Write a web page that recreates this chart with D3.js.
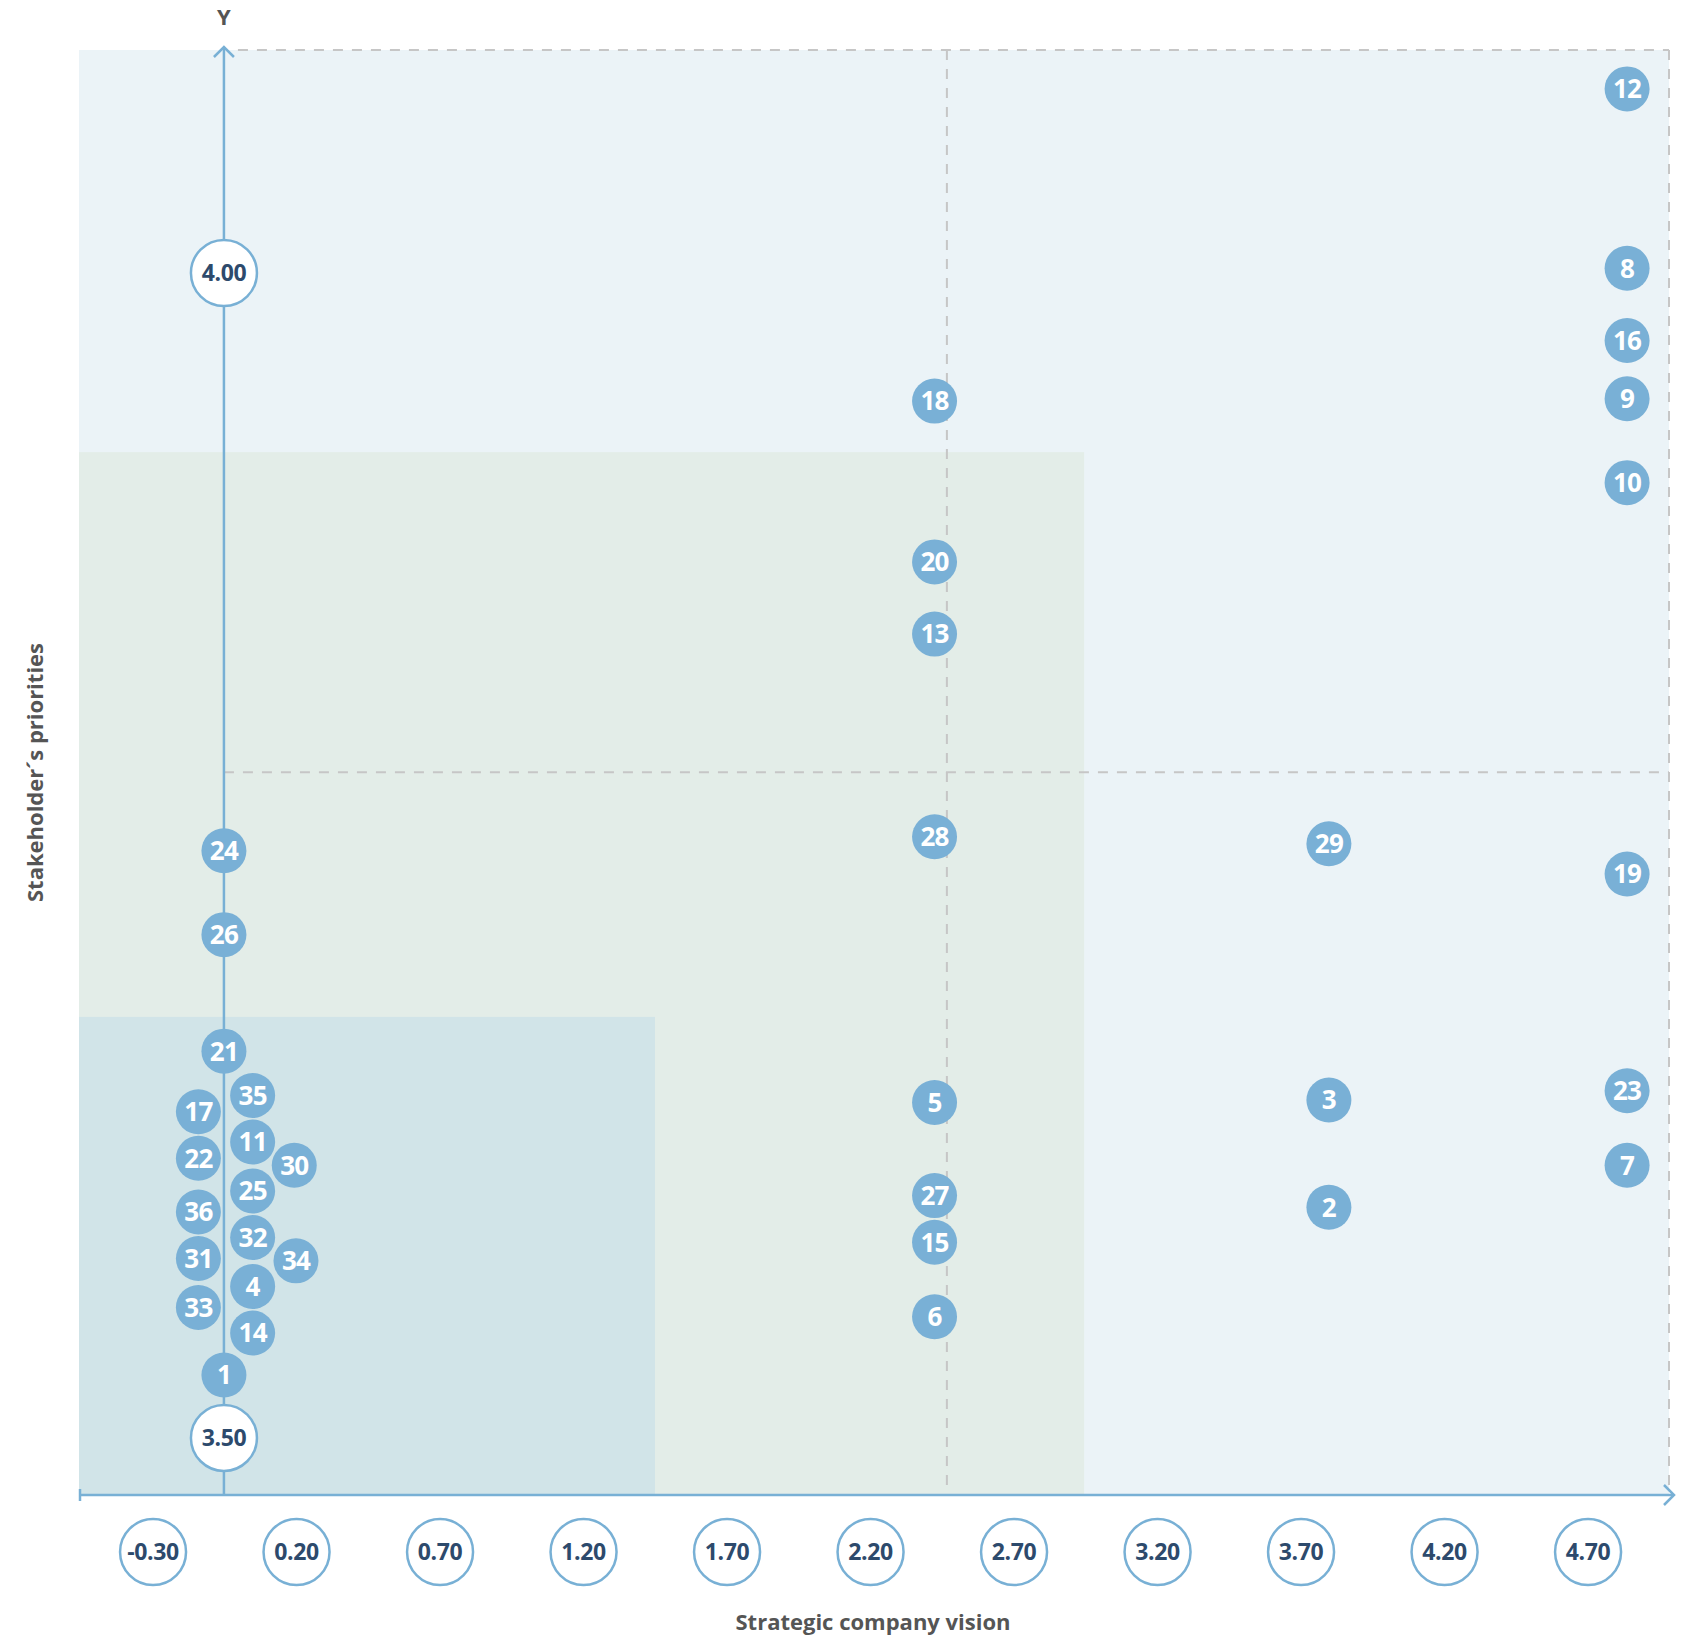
<!DOCTYPE html>
<html>
<head>
<meta charset="utf-8">
<script src="https://cdn.jsdelivr.net/npm/d3@7/dist/d3.min.js"></script>
<style>
  html, body { margin: 0; padding: 0; background: #fff; }
  svg { display: block; }
</style>
</head>
<body>
<svg id="chart" width="1698" height="1637"></svg>
<script>
// ---- data ----
const ids = [12, 8, 16, 9, 10, 18, 20, 13, 28, 29, 19, 24, 26, 21, 35, 17, 5, 3, 23, 11, 22, 30, 7, 25, 27, 2, 36, 32, 15, 31, 34, 4, 33, 6, 14, 1];
const xs  = [4.836, 4.836, 4.836, 4.836, 4.836, 2.423, 2.423, 2.423, 2.423, 3.797, 4.836, -0.053, -0.053, -0.053, 0.047, -0.142, 2.423, 3.797, 4.836, 0.047, -0.142, 0.192, 4.836, 0.047, 2.423, 3.797, -0.142, 0.047, 2.423, -0.142, 0.198, 0.047, -0.142, 2.423, 0.047, -0.053];
const ys  = [4.079, 4.002, 3.971, 3.946, 3.910, 3.945, 3.876, 3.845, 3.758, 3.755, 3.742, 3.752, 3.716, 3.666, 3.647, 3.640, 3.644, 3.645, 3.649, 3.627, 3.620, 3.617, 3.617, 3.606, 3.604, 3.599, 3.597, 3.586, 3.584, 3.577, 3.576, 3.565, 3.556, 3.552, 3.545, 3.527];
const xTicks = [-0.30, 0.20, 0.70, 1.20, 1.70, 2.20, 2.70, 3.20, 3.70, 4.20, 4.70];
const yTicks = [3.50, 4.00];
const xDomain = [-0.558, 4.982];
const yDomain = [3.4755, 4.0957];
const yAxisAt = -0.053;          // x value where the Y axis crosses
const xSplit = 2.466;            // vertical dashed divider
const ySplit = 3.7857;           // horizontal dashed divider
const zoneMid   = {x1: 2.944, y1: 3.9231};
const zoneInner = {x1: 1.449, y1: 3.6807};
const xTitle = "Strategic company vision";
const yTitle = "Stakeholder´s priorities";

// ---- layout ----
const L = 79, R = 1669, T = 50, B = 1495;
const x = d3.scaleLinear().domain(xDomain).range([L, R]);
const y = d3.scaleLinear().domain(yDomain).range([B, T]);

const svg = d3.select("#chart");
const axisColor = "#78b0d5";
const bubbleColor = "#79b0d6";
const labelColor = "#2d4a6c";
const titleColor = "#555555";
const font = "'Open Sans', 'Noto Sans', sans-serif";

// background zones
svg.append("rect").attr("x", x(xDomain[0])).attr("y", y(yDomain[1]))
  .attr("width", x(xDomain[1]) - x(xDomain[0])).attr("height", y(yDomain[0]) - y(yDomain[1]))
  .attr("fill", "#ebf3f7");
svg.append("rect").attr("x", x(xDomain[0])).attr("y", y(zoneMid.y1))
  .attr("width", x(zoneMid.x1) - x(xDomain[0])).attr("height", y(yDomain[0]) - y(zoneMid.y1))
  .attr("fill", "#e3ede8");
svg.append("rect").attr("x", x(xDomain[0])).attr("y", y(zoneInner.y1))
  .attr("width", x(zoneInner.x1) - x(xDomain[0])).attr("height", y(yDomain[0]) - y(zoneInner.y1))
  .attr("fill", "#d1e4e8");

// dashed lines
const dash = g => g.attr("stroke", "#c6c6c6").attr("stroke-width", 2).attr("stroke-dasharray", "10,9").attr("fill", "none");
svg.append("line").attr("x1", x(yAxisAt) + 14).attr("x2", x(xDomain[1])).attr("y1", y(yDomain[1])).attr("y2", y(yDomain[1])).call(dash);
svg.append("line").attr("x1", x(xDomain[1])).attr("x2", x(xDomain[1])).attr("y1", y(yDomain[1])).attr("y2", y(yDomain[0]) - 6).call(dash);
svg.append("line").attr("x1", x(yAxisAt)).attr("x2", x(xDomain[1])).attr("y1", y(ySplit)).attr("y2", y(ySplit)).call(dash);
svg.append("line").attr("x1", x(xSplit)).attr("x2", x(xSplit)).attr("y1", y(yDomain[1])).attr("y2", y(yDomain[0])).call(dash);

// X axis
const ax = svg.append("g").attr("stroke", axisColor).attr("stroke-width", 2.5).attr("fill", "none");
ax.append("line").attr("x1", x(xDomain[0])).attr("x2", x(xDomain[1]) + 4).attr("y1", y(yDomain[0])).attr("y2", y(yDomain[0]));
ax.append("line").attr("x1", x(xDomain[0]) + 1).attr("x2", x(xDomain[0]) + 1).attr("y1", y(yDomain[0]) - 6).attr("y2", y(yDomain[0]) + 6);
ax.append("polyline").attr("points", `${x(xDomain[1]) - 5},${y(yDomain[0]) - 10} ${x(xDomain[1]) + 5},${y(yDomain[0])} ${x(xDomain[1]) - 5},${y(yDomain[0]) + 10}`);
// Y axis
ax.append("line").attr("x1", x(yAxisAt)).attr("x2", x(yAxisAt)).attr("y1", y(yDomain[0])).attr("y2", y(yDomain[1]) - 3);
ax.append("polyline").attr("points", `${x(yAxisAt) - 10},${y(yDomain[1]) + 7} ${x(yAxisAt)},${y(yDomain[1]) - 3} ${x(yAxisAt) + 10},${y(yDomain[1]) + 7}`);

// X tick labels (circles)
const xt = svg.append("g").selectAll("g").data(xTicks).join("g")
  .attr("transform", d => `translate(${x(d)},${y(yDomain[0]) + 57})`);
xt.append("circle").attr("r", 33).attr("fill", "#fff").attr("stroke", axisColor).attr("stroke-width", 2.5);
xt.append("text").text(d => d.toFixed(2)).attr("text-anchor", "middle").attr("dy", "0.36em")
  .attr("font-family", font).attr("font-weight", 700).attr("font-size", 23).attr("fill", labelColor)
  .attr("letter-spacing", -0.4);

// Y tick labels (circles)
const yt = svg.append("g").selectAll("g").data(yTicks).join("g")
  .attr("transform", d => `translate(${x(yAxisAt)},${y(d)})`);
yt.append("circle").attr("r", 33).attr("fill", "#fff").attr("stroke", axisColor).attr("stroke-width", 2.5);
yt.append("text").text(d => d.toFixed(2)).attr("text-anchor", "middle").attr("dy", "0.36em")
  .attr("font-family", font).attr("font-weight", 700).attr("font-size", 23).attr("fill", labelColor)
  .attr("letter-spacing", -0.4);

// bubbles
const pts = ids.map((id, i) => ({id, x: xs[i], y: ys[i]}));
const bg = svg.append("g").selectAll("g").data(pts).join("g")
  .attr("transform", d => `translate(${x(d.x)},${y(d.y)})`);
bg.append("circle").attr("r", 22.5).attr("fill", bubbleColor);
bg.append("text").text(d => d.id).attr("text-anchor", "middle").attr("dy", "0.36em")
  .attr("font-family", font).attr("font-weight", 700).attr("font-size", 26).attr("fill", "#fff")
  .attr("letter-spacing", -0.8);

// titles
svg.append("text").text("Y").attr("x", x(yAxisAt)).attr("y", 25).attr("text-anchor", "middle")
  .attr("font-family", font).attr("font-weight", 700).attr("font-size", 22).attr("fill", titleColor);
svg.append("text").text(xTitle).attr("x", 873).attr("y", 1630).attr("text-anchor", "middle")
  .attr("font-family", font).attr("font-weight", 700).attr("font-size", 22).attr("fill", titleColor);
svg.append("text").text(yTitle).attr("transform", `translate(43,${(T + B) / 2}) rotate(-90)`).attr("text-anchor", "middle")
  .attr("font-family", font).attr("font-weight", 700).attr("font-size", 22).attr("fill", titleColor);
</script>
</body>
</html>
